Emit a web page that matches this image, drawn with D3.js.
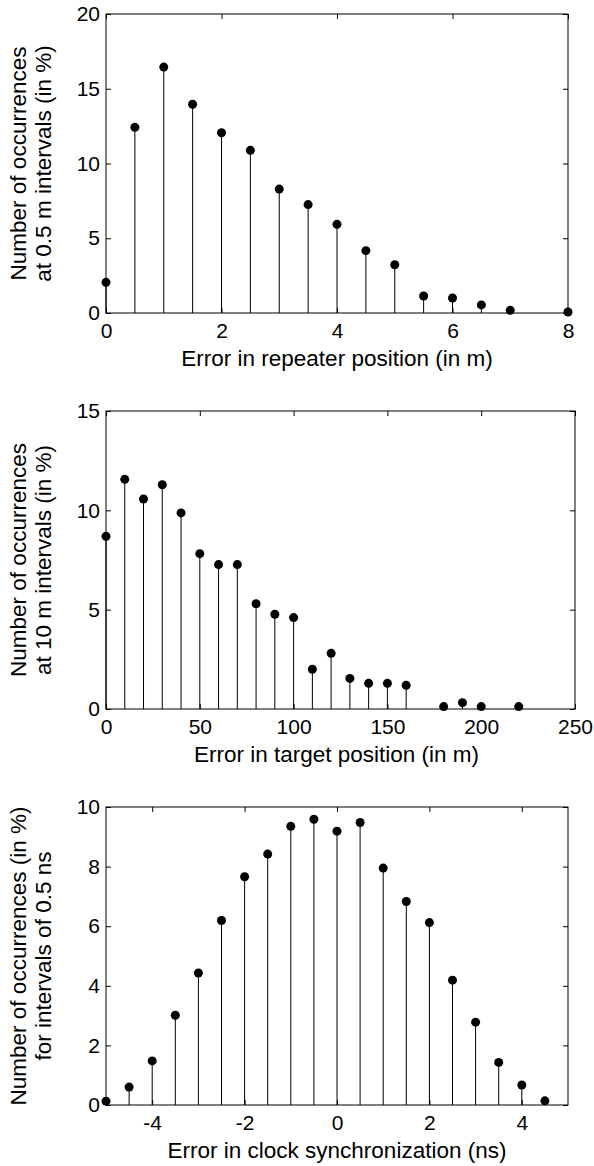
<!DOCTYPE html>
<html>
<head>
<meta charset="utf-8">
<script src="https://cdn.jsdelivr.net/npm/d3@7"></script>
<style>
  body { margin: 0; background: #fff; }
  svg text { font-family: Arial, "Liberation Sans", sans-serif; fill: #000; }
</style>
</head>
<body>
<div id="chart"></div>
<script>
// panel 1: repeater position error
const repeaterX = [0, 0.5, 1, 1.5, 2, 2.5, 3, 3.5, 4, 4.5, 5, 5.5, 6, 6.5, 7, 8];
const repeaterY = [2.05, 12.42, 16.45, 13.96, 12.06, 10.88, 8.29, 7.25, 5.93, 4.17, 3.23, 1.14, 1.0, 0.54, 0.18, 0.07];
const repeaterXTicks = [0, 2, 4, 6, 8];
const repeaterYTicks = [0, 5, 10, 15, 20];

// panel 2: target position error
const targetX = [0, 10, 20, 30, 40, 50, 60, 70, 80, 90, 100, 110, 120, 130, 140, 150, 160, 180, 190, 200, 220];
const targetY = [8.69, 11.56, 10.57, 11.29, 9.87, 7.82, 7.27, 7.27, 5.30, 4.77, 4.60, 2.0, 2.80, 1.54, 1.29, 1.29, 1.19, 0.12, 0.32, 0.12, 0.12];
const targetXTicks = [0, 50, 100, 150, 200, 250];
const targetYTicks = [0, 5, 10, 15];

// panel 3: clock synchronization error
const clockX = [-5, -4.5, -4, -3.5, -3, -2.5, -2, -1.5, -1, -0.5, 0, 0.5, 1, 1.5, 2, 2.5, 3, 3.5, 4, 4.5];
const clockY = [0.13, 0.60, 1.48, 3.01, 4.43, 6.19, 7.66, 8.42, 9.35, 9.59, 9.19, 9.48, 7.95, 6.83, 6.12, 4.19, 2.78, 1.43, 0.67, 0.14];
const clockXTicks = [-4, -2, 0, 2, 4];
const clockYTicks = [0, 2, 4, 6, 8, 10];

const svg = d3.select('#chart')
    .append('svg')
    .attr('width', 594)
    .attr('height', 1166);

const fmt = d => String(d);

const drawPanel = (p) => {
    const x = d3.scaleLinear().domain(p.xDomain).range([p.left, p.right]);
    const y = d3.scaleLinear().domain(p.yDomain).range([p.bottom, p.top]);
    const tick = 5;

    const g = svg.append('g');

    // box
    g.append('rect')
        .attr('x', p.left).attr('y', p.top)
        .attr('width', p.right - p.left).attr('height', p.bottom - p.top)
        .attr('fill', 'none').attr('stroke', '#000').attr('stroke-width', 1);

    // inward ticks on all four sides (matlab box)
    const axes = [
        d3.axisBottom(x).tickValues(p.xTicks).tickSize(-tick).tickPadding(10).tickFormat(fmt),
        d3.axisTop(x).tickValues(p.xTicks).tickSize(-tick).tickFormat(''),
        d3.axisLeft(y).tickValues(p.yTicks).tickSize(-tick).tickPadding(6).tickFormat(fmt),
        d3.axisRight(y).tickValues(p.yTicks).tickSize(-tick).tickFormat('')
    ];
    const pos = [`translate(0,${p.bottom})`, `translate(0,${p.top})`,
                 `translate(${p.left},0)`, `translate(${p.right},0)`];
    axes.forEach((ax, i) => {
        const a = g.append('g').attr('transform', pos[i]).call(ax);
        a.attr('font-size', 21).attr('font-family', null);
        a.select('.domain').remove();
        a.selectAll('line').attr('stroke', '#000');
        a.selectAll('text').attr('fill', '#000');
    });

    // stems
    const pts = p.xs.map((d, i) => ({x: d, y: p.ys[i]}));
    g.selectAll('line.stem')
        .data(pts)
        .enter()
        .append('line')
            .attr('class', 'stem')
            .attr('x1', d => x(d.x)).attr('x2', d => x(d.x))
            .attr('y1', y(0)).attr('y2', d => y(d.y))
            .attr('stroke', '#000').attr('stroke-width', 1);

    g.selectAll('circle.dot')
        .data(pts)
        .enter()
        .append('circle')
            .attr('class', 'dot')
            .attr('cx', d => x(d.x)).attr('cy', d => y(d.y))
            .attr('r', 4.5)
            .attr('fill', '#000');

    // x title
    g.append('text')
        .attr('x', (p.left + p.right) / 2 + p.xTitleShift)
        .attr('y', p.bottom + 53)
        .attr('text-anchor', 'middle')
        .attr('font-size', 22.5)
        .text(p.xTitle);

    // y title, two lines
    const cy = (p.top + p.bottom) / 2;
    p.yTitle.forEach((t, i) => {
        g.append('text')
            .attr('transform', `translate(${26 + i * 25},${cy}) rotate(-90)`)
            .attr('text-anchor', 'middle')
            .attr('font-size', 22.5)
            .text(t);
    });
};

drawPanel({
    xs: repeaterX, ys: repeaterY, xDomain: [0, 8], yDomain: [0, 20],
    xTicks: repeaterXTicks, yTicks: repeaterYTicks,
    left: 106, right: 568, top: 14, bottom: 313, xTitleShift: 0,
    xTitle: 'Error in repeater position (in m)',
    yTitle: ['Number of occurrences', 'at 0.5 m intervals (in %)']
});

drawPanel({
    xs: targetX, ys: targetY, xDomain: [0, 250], yDomain: [0, 15],
    xTicks: targetXTicks, yTicks: targetYTicks,
    left: 106, right: 575, top: 411, bottom: 709, xTitleShift: -4,
    xTitle: 'Error in target position (in m)',
    yTitle: ['Number of occurrences', 'at 10 m intervals (in %)']
});

drawPanel({
    xs: clockX, ys: clockY, xDomain: [-5, 5], yDomain: [0, 10],
    xTicks: clockXTicks, yTicks: clockYTicks,
    left: 106, right: 568, top: 807, bottom: 1105, xTitleShift: 0,
    xTitle: 'Error in clock synchronization (ns)',
    yTitle: ['Number of occurrences (in %)', 'for intervals of 0.5 ns']
});
</script>
</body>
</html>
